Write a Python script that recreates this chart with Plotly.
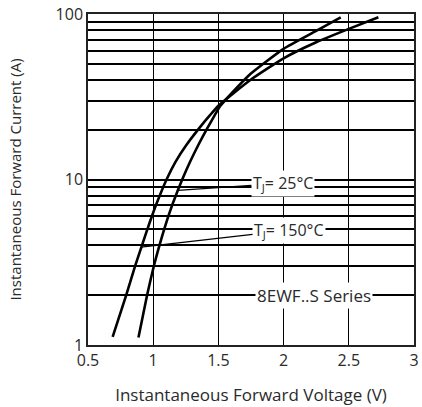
import math
import plotly.graph_objects as go

# T_J = 150°C curve
v_150 = [0.689, 0.793, 0.861, 0.914, 0.955, 0.990, 1.026, 1.105, 1.170, 1.253, 1.350, 1.434, 1.502, 1.75, 2.0, 2.25, 2.5, 2.727]
i_150 = [1.12, 2, 3, 4, 5, 6, 7.16, 10.1, 12.75, 16.1, 20.3, 24.4, 28, 40.2, 54, 67.5, 81.3, 95.5]

# T_J = 25°C curve
v_25 = [0.887, 0.953, 1.005, 1.048, 1.084, 1.116, 1.150, 1.189, 1.225, 1.282, 1.345, 1.413, 1.471, 1.517, 1.747, 2.0, 2.25, 2.438]
i_25 = [1.11, 2, 3, 4, 5, 6, 7.16, 8.6, 10.1, 12.75, 16.1, 20.3, 24.4, 28, 43.5, 61.6, 79, 95.5]

x_ticks = [0.5, 1, 1.5, 2, 2.5, 3]
x_tick_text = ["0.5", "1", "1.5", "2", "2.5", "3"]
y_ticks = [1, 10, 100]
y_tick_text = ["1", "10", "100"]
y_minor = [2, 3, 4, 5, 6, 7, 8, 9, 20, 30, 40, 50, 60, 70, 80, 90]

label_25 = "T<sub>J</sub>= 25°C"
label_150 = "T<sub>J</sub>= 150°C"
series_label = "8EWF..S Series"
point_25 = (1.189, 8.6)
point_150 = (0.907, 3.9)
series_pos = (2.234, 1.98)

FONT = "Open Sans"
TXT = "#2a2a2a"

fig = go.Figure()
for v, i in [(v_150, i_150), (v_25, i_25)]:
    fig.add_trace(go.Scatter(x=v, y=i, mode="lines",
                             line=dict(color="black", width=2.6, shape="spline", smoothing=0.5),
                             showlegend=False, hoverinfo="skip"))

ann_font = dict(family=FONT, size=16, color=TXT)
fig.add_annotation(x=point_25[0], y=math.log10(point_25[1]), text=label_25, showarrow=True, arrowhead=0,
                   arrowwidth=1.2, arrowcolor="black", ax=105, ay=-7, bgcolor="white", borderpad=1, font=ann_font)
fig.add_annotation(x=point_150[0], y=math.log10(point_150[1]), text=label_150, showarrow=True, arrowhead=0,
                   arrowwidth=1.2, arrowcolor="black", ax=148, ay=-17, bgcolor="white", borderpad=1, font=ann_font)
fig.add_annotation(x=series_pos[0], y=math.log10(series_pos[1]), text=series_label, showarrow=False,
                   bgcolor="white", borderpad=1, font=dict(family=FONT, size=17, color=TXT))

fig.update_layout(
    width=422, height=407,
    margin=dict(l=88, r=3, t=14, b=62),
    paper_bgcolor="white", plot_bgcolor="white",
    font=dict(family=FONT, size=15, color=TXT),
)
fig.update_xaxes(range=[0.5, 3], tickvals=x_ticks, ticktext=x_tick_text, showgrid=True, gridcolor="black", gridwidth=1.3,
                 showline=True, linecolor="#222", linewidth=1.5, mirror=True, ticks="", zeroline=False,
                 tickfont=dict(size=16, family=FONT, color=TXT),
                 title=dict(text="Instantaneous Forward Voltage (V)", font=dict(size=17, family=FONT, color=TXT), standoff=19))
fig.update_yaxes(type="log", range=[0, 2], tickvals=y_ticks, ticktext=y_tick_text, showgrid=True, gridcolor="black", gridwidth=2,
                 minor=dict(tickvals=y_minor, showgrid=True, gridcolor="black", gridwidth=2, ticks=""),
                 showline=True, linecolor="#222", linewidth=1.5, mirror=True, ticks="", zeroline=False,
                 tickfont=dict(size=16, family=FONT, color=TXT),
                 title=dict(text="Instantaneous Forward Current (A)", font=dict(size=15, family=FONT, color=TXT), standoff=30))

fig.write_html("out.html")
